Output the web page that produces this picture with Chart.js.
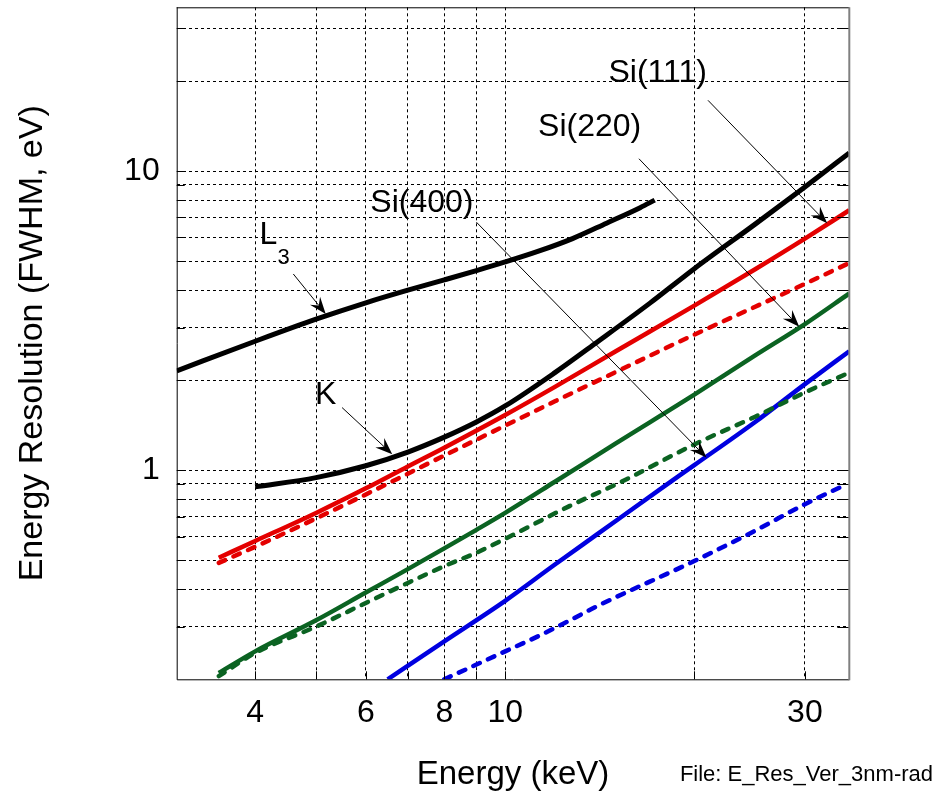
<!DOCTYPE html>
<html><head><meta charset="utf-8">
<script src="https://cdn.jsdelivr.net/npm/chart.js@4.4.1/dist/chart.umd.min.js"></script>
<style>html,body{margin:0;padding:0;background:#fff;overflow:hidden}#wrap{width:937px;height:797px;position:relative}</style>
</head><body><div id="wrap"><canvas id="c" width="937" height="797"></canvas></div>
<script>
// ---- axis ticks ----
const xTickValues = [4, 5, 6, 7, 8, 9, 10, 20, 30];
const xTickLabels = ['4', '', '6', '', '8', '', '10', '', '30'];
const yTickValues = [0.3, 0.4, 0.5, 0.6, 0.7, 0.8, 0.9, 1, 2, 3, 4, 5, 6, 7, 8, 9, 10, 20, 30];
const yTickLabels = ['', '', '', '', '', '', '', '1', '', '', '', '', '', '', '', '', '10', '', ''];
const xMin = 3, xMax = 35.3, yMin = 0.2, yMax = 35.3;

// ---- series (Energy keV -> FWHM eV) ----
const l3Energy = [3, 4, 5, 6, 7, 8, 9, 10, 11.3, 12.8, 14.5, 16.4, 17.3];
const l3Res    = [2.15, 2.7, 3.2, 3.63, 4.0, 4.33, 4.65, 4.97, 5.4, 5.95, 6.7, 7.55, 8.0];

const kEnergy = [4, 5, 6, 7, 8, 9, 10, 12, 14, 17, 20, 25, 30, 35.3];
const kRes    = [0.88, 0.945, 1.035, 1.15, 1.29, 1.45, 1.64, 2.12, 2.68, 3.62, 4.72, 6.65, 8.85, 11.5];

const si111Energy = [3.5, 4, 5, 6, 7, 8, 10, 12, 15, 20, 25, 30, 35.3];
const si111Res    = [0.51, 0.58, 0.72, 0.87, 1.03, 1.19, 1.53, 1.90, 2.5, 3.55, 4.70, 5.95, 7.4];
const si111DashEnergy = [3.5, 4, 5, 6, 8, 10, 12, 15, 20, 25, 30, 35.3];
const si111DashRes    = [0.49, 0.555, 0.69, 0.83, 1.12, 1.41, 1.70, 2.13, 2.84, 3.52, 4.2, 4.93];

const si220Energy = [3.5, 4, 5, 6, 7, 8, 9, 10, 12, 15, 20, 25, 30, 35.3];
const si220Res    = [0.21, 0.248, 0.315, 0.39, 0.467, 0.548, 0.632, 0.72, 0.915, 1.23, 1.79, 2.42, 3.08, 3.9];
const si220DashEnergy = [3.5, 4, 5, 6, 7, 8, 9, 10, 12.68, 15.4, 20, 25, 30, 35.3];
const si220DashRes    = [0.205, 0.245, 0.30, 0.36, 0.42, 0.478, 0.53, 0.59, 0.76, 0.92, 1.22, 1.51, 1.82, 2.12];

const si400Energy = [6.5, 8, 10, 12, 14, 18, 20, 25, 30, 35.3];
const si400Res    = [0.2, 0.268, 0.366, 0.484, 0.61, 0.89, 1.04, 1.45, 1.94, 2.5];
const si400DashEnergy = [8, 9, 10, 11.34, 12.68, 14, 20, 25, 30, 34.5];
const si400DashRes    = [0.2, 0.224, 0.248, 0.28, 0.315, 0.351, 0.497, 0.628, 0.77, 0.886];

// ---- annotations (data coordinates) ----
const labelTexts  = ['Si(111)', 'Si(220)', 'Si(400)', 'K', 'L'];
const labelEnergy = [17.49, 13.63, 7.37, 5.18, 4.20];
const labelRes    = [21.2, 14.04, 7.83, 1.787, 6.10];
const arrowFromE = [21.03, 16.33, 9.0, 4.60, 5.50];
const arrowFromR = [17.25, 11.0, 6.75, 4.53, 1.62];
const arrowToE   = [32.55, 29.38, 20.91, 5.18, 6.61];
const arrowToR   = [6.70, 3.02, 1.102, 3.33, 1.131];

const RED = '#e40000', GREEN = '#0b6322', BLUE = '#0000e0';
const FONT = "'Liberation Sans', Arial, Helvetica, sans-serif";

function pts(xs, ys) { return xs.map((x, i) => ({x: x, y: ys[i]})); }
function ds(xs, ys, color, dashed, width) {
  return {
    data: pts(xs, ys), borderColor: color, borderWidth: width || 4.5,
    borderDash: dashed ? [7, 9] : [], borderCapStyle: dashed ? 'round' : 'butt',
    borderJoinStyle: 'round', pointRadius: 0, fill: false,
    cubicInterpolationMode: 'monotone'
  };
}

const decor = {
  id: 'decor',
  afterDatasetsDraw(chart) {
    const ctx = chart.ctx, a = chart.chartArea, xs = chart.scales.x, ys = chart.scales.y;
    ctx.save();
    ctx.strokeStyle = '#000'; ctx.lineWidth = 1; ctx.setLineDash([]);
    ctx.beginPath();
    xTickValues.forEach(v => {
      const px = Math.round(xs.getPixelForValue(v)) + 0.5;
      ctx.moveTo(px, a.bottom); ctx.lineTo(px, a.bottom - 8);
    });
    yTickValues.forEach(v => {
      const py = Math.round(ys.getPixelForValue(v)) + 0.5;
      ctx.moveTo(a.left, py); ctx.lineTo(a.left + 8, py);
      ctx.moveTo(a.right, py); ctx.lineTo(a.right - 12, py);
    });
    ctx.stroke();
    ctx.beginPath();
    ctx.moveTo(a.left + 0.5, a.top); ctx.lineTo(a.left + 0.5, a.bottom + 0.5);
    ctx.lineTo(a.right, a.bottom + 0.5);
    ctx.moveTo(a.left, a.top + 0.5); ctx.lineTo(a.right, a.top + 0.5);
    ctx.stroke();
    ctx.strokeStyle = '#808080'; ctx.lineWidth = 2;
    ctx.beginPath(); ctx.moveTo(a.right, a.top); ctx.lineTo(a.right, a.bottom + 1); ctx.stroke();

    ctx.strokeStyle = '#000'; ctx.fillStyle = '#000'; ctx.lineWidth = 1;
    for (let i = 0; i < arrowFromE.length; i++) {
      const x1 = xs.getPixelForValue(arrowFromE[i]), y1 = ys.getPixelForValue(arrowFromR[i]);
      const x2 = xs.getPixelForValue(arrowToE[i]), y2 = ys.getPixelForValue(arrowToR[i]);
      const ang = Math.atan2(y2 - y1, x2 - x1);
      const L = 17, W = 6.5, N = 11;
      ctx.beginPath(); ctx.moveTo(x1, y1);
      ctx.lineTo(x2 - N * Math.cos(ang), y2 - N * Math.sin(ang)); ctx.stroke();
      ctx.save(); ctx.translate(x2, y2); ctx.rotate(ang);
      ctx.beginPath(); ctx.moveTo(0, 0); ctx.lineTo(-L, -W); ctx.lineTo(-N, 0); ctx.lineTo(-L, W);
      ctx.closePath(); ctx.fill(); ctx.restore();
    }
    ctx.textAlign = 'center'; ctx.textBaseline = 'middle'; ctx.fillStyle = '#000';
    for (let i = 0; i < labelTexts.length; i++) {
      const x = xs.getPixelForValue(labelEnergy[i]), y = ys.getPixelForValue(labelRes[i]);
      ctx.font = '32px ' + FONT;
      ctx.fillText(labelTexts[i], x, y);
      if (labelTexts[i] === 'L') {
        ctx.font = '22px ' + FONT;
        ctx.fillText('3', x + 15, y + 23);
      }
    }
    ctx.font = '22px ' + FONT; ctx.textAlign = 'right'; ctx.textBaseline = 'alphabetic';
    ctx.fillText('File: E_Res_Ver_3nm-rad', 933, 781);
    ctx.restore();
  }
};

new Chart(document.getElementById('c'), {
  type: 'line',
  data: {
    datasets: [
      ds(l3Energy, l3Res, '#000', false, 5),
      ds(kEnergy, kRes, '#000', false, 5),
      ds(si111DashEnergy, si111DashRes, RED, true),
      ds(si111Energy, si111Res, RED, false),
      ds(si220DashEnergy, si220DashRes, GREEN, true),
      ds(si220Energy, si220Res, GREEN, false),
      ds(si400DashEnergy, si400DashRes, BLUE, true),
      ds(si400Energy, si400Res, BLUE, false)
    ]
  },
  options: {
    responsive: false, animation: false, devicePixelRatio: 1,
    layout: {padding: {left: 0, right: 87.7, top: 7.3, bottom: 0}},
    plugins: {legend: {display: false}, tooltip: {enabled: false}},
    scales: {
      x: {
        type: 'logarithmic', min: xMin, max: xMax,
        afterBuildTicks(s) { s.ticks = xTickValues.map(v => ({value: v})); },
        afterFit(s) { s.height = 117.7; s.paddingLeft = 0; s.paddingRight = 0; },
        grid: {color: '#000', lineWidth: 1, drawTicks: false},
        border: {display: false, dash: [3, 3]},
        ticks: {
          autoSkip: false, maxRotation: 0, padding: 15, color: '#000',
          font: {family: FONT, size: 32},
          callback(v) { const i = xTickValues.indexOf(v); return i >= 0 ? xTickLabels[i] : ''; }
        },
        title: {display: true, text: 'Energy (keV)', color: '#000', font: {family: FONT, size: 33}, padding: {top: 0, bottom: 2}}
      },
      y: {
        type: 'logarithmic', min: yMin, max: yMax,
        afterBuildTicks(s) { s.ticks = yTickValues.map(v => ({value: v})); },
        afterFit(s) { s.width = 176.7; s.paddingTop = 0; s.paddingBottom = 0; },
        grid: {color: '#000', lineWidth: 1, drawTicks: false},
        border: {display: false, dash: [3, 3]},
        ticks: {
          autoSkip: false, padding: 17, color: '#000',
          font: {family: FONT, size: 32},
          callback(v) { const i = yTickValues.indexOf(v); return i >= 0 ? yTickLabels[i] : ''; }
        },
        title: {display: true, text: 'Energy Resolution (FWHM, eV)', color: '#000', font: {family: FONT, size: 34}, padding: {top: 12, bottom: 0}}
      }
    }
  },
  plugins: [decor]
});
</script></body></html>
